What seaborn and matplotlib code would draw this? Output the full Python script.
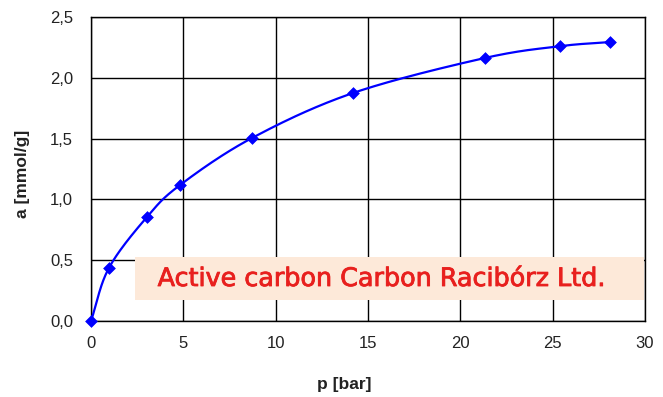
import numpy as np
import matplotlib
matplotlib.use("Agg")
import matplotlib.pyplot as plt
import seaborn as sns
from matplotlib.patches import Rectangle
import matplotlib.patheffects as pe

pressure = [0.0, 0.97, 3.03, 4.82, 8.72, 14.19, 21.33, 25.4, 28.1]
adsorption = [0.0, 0.436, 0.855, 1.118, 1.505, 1.875, 2.163, 2.26, 2.294]
x_ticks = [0, 5, 10, 15, 20, 25, 30]
y_ticks = [0.0, 0.5, 1.0, 1.5, 2.0, 2.5]
title_text = "Active carbon Carbon Racibórz Ltd."
x_label = "p [bar]"
y_label = "a [mmol/g]"

sns.set_style("white")
plt.rcParams['font.family'] = ['Liberation Sans', 'DejaVu Sans']


def catmull_rom(xs, ys, n=30):
    xs = np.asarray(xs, float)
    ys = np.asarray(ys, float)
    px = np.concatenate([[2 * xs[0] - xs[1]], xs, [2 * xs[-1] - xs[-2]]])
    py = np.concatenate([[2 * ys[0] - ys[1]], ys, [2 * ys[-1] - ys[-2]]])
    outx, outy = [], []
    for i in range(1, len(px) - 2):
        t = np.linspace(0, 1, n, endpoint=False)
        for arr, out in ((px, outx), (py, outy)):
            p0, p1, p2, p3 = arr[i - 1], arr[i], arr[i + 1], arr[i + 2]
            out.extend(0.5 * ((2 * p1) + (-p0 + p2) * t
                              + (2 * p0 - 5 * p1 + 4 * p2 - p3) * t ** 2
                              + (-p0 + 3 * p1 - 3 * p2 + p3) * t ** 3))
    outx.append(xs[-1])
    outy.append(ys[-1])
    return np.array(outx), np.array(outy)


fig = plt.figure(figsize=(6.63, 3.97), dpi=100)
ax = fig.add_axes([91 / 663, 1 - 321 / 397, (645 - 91) / 663, (321 - 17) / 397])

sx, sy = catmull_rom(pressure, adsorption)
ax.plot(sx, sy, color="#0000FF", lw=1.6, zorder=3)
sns.scatterplot(x=pressure, y=adsorption, marker="D", s=36, color="#0000FF",
                edgecolor="#0000FF", ax=ax, zorder=4, clip_on=False)

ax.set_xlim(0, 30)
ax.set_ylim(0, 2.5)
ax.set_xticks(x_ticks)
ax.set_yticks(y_ticks)
ax.set_yticklabels([f"{v:.1f}".replace(".", ",") for v in y_ticks])
ax.grid(True, color="black", lw=1)
ax.set_axisbelow(True)
for s in ax.spines.values():
    s.set_color("black")
    s.set_linewidth(1)
    s.set_zorder(2.8)
ax.tick_params(axis="both", direction="out", length=5, width=1, color="black",
               labelsize=12, labelcolor="#222222")
ax.tick_params(axis="x", pad=6)
ax.tick_params(axis="y", pad=8)

fig.text(344 / 663, 1 - 389 / 397, x_label, fontsize=12.5, fontweight="bold",
         ha="center", va="baseline", color="#222222")
fig.text(23 / 663, 1 - 174 / 397, y_label, fontsize=12.5, fontweight="bold",
         ha="center", va="center", rotation=90, color="#222222")

rect = Rectangle((135 / 663, 1 - 300 / 397), (644 - 135) / 663, (300 - 257) / 397,
                 transform=fig.transFigure, facecolor="#FDE9D9", edgecolor="none",
                 zorder=2.5)
ax.add_patch(rect)
fig.text(381 / 663, 1 - 286 / 397, title_text, fontsize=18.3, color="#E8201E",
         ha="center", va="baseline", family=["DejaVu Sans"], zorder=5,
         path_effects=[pe.withStroke(linewidth=0.6, foreground="#E8201E")])

fig.savefig("out.png", dpi=100)
